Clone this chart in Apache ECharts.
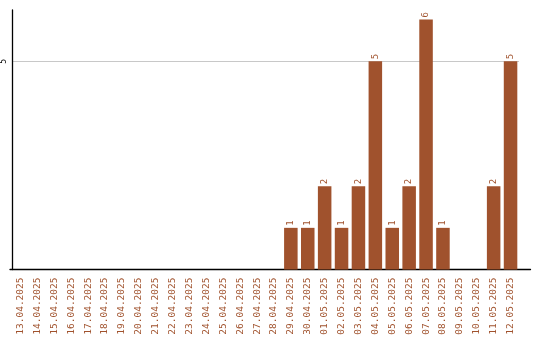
<!DOCTYPE html>
<html><head><meta charset="utf-8">
<script src="https://cdn.jsdelivr.net/npm/echarts@6/dist/echarts.min.js"></script>
<style>html,body{margin:0;padding:0;background:#fff}#c{width:540px;height:340px}</style>
</head><body><div id="c"></div>
<script>
var categories = ["13.04.2025","14.04.2025","15.04.2025","16.04.2025","17.04.2025","18.04.2025","19.04.2025","20.04.2025","21.04.2025","22.04.2025","23.04.2025","24.04.2025","25.04.2025","26.04.2025","27.04.2025","28.04.2025","29.04.2025","30.04.2025","01.05.2025","02.05.2025","03.05.2025","04.05.2025","05.05.2025","06.05.2025","07.05.2025","08.05.2025","09.05.2025","10.05.2025","11.05.2025","12.05.2025"];
var values = [0,0,0,0,0,0,0,0,0,0,0,0,0,0,0,0,1,1,2,1,2,5,1,2,6,1,0,0,2,5];
var yTicks = [0,5];

var chart = echarts.init(document.getElementById('c'), null, {renderer:'canvas'});
var color = '#A0522D';
chart.setOption({
  animation:false,
  grid:[
    {left:9, width:510, top:10, height:259.5, containLabel:false},
    {left:10, right:9.5, top:10, height:259.5, containLabel:false}
  ],
  xAxis:[
    {type:'category', gridIndex:0, data:categories,
     axisLine:{show:false}, axisTick:{show:false},
     axisLabel:{rotate:90, interval:0, color:color, fontFamily:'DejaVu Sans Mono', fontSize:9.5, margin:8}},
    {type:'category', gridIndex:1, data:[''],
     axisLine:{show:true, lineStyle:{color:'#000', width:1.3}}, axisTick:{show:false}, axisLabel:{show:false}}
  ],
  yAxis:[
    {type:'value', gridIndex:0, min:0, max:6.23, interval:5,
     axisLine:{show:true, lineStyle:{color:'#000', width:1.3}}, axisTick:{show:false},
     splitLine:{show:true, lineStyle:{color:['rgba(0,0,0,0)','#c8c8c8','rgba(0,0,0,0)'], width:1}},
     axisLabel:{rotate:90, color:'#000', fontFamily:'DejaVu Sans Mono', fontSize:8, margin:4, showMinLabel:false, showMaxLabel:false,
       formatter:function(v){return yTicks.indexOf(v)>=0 && v!==0 ? String(v) : '';}}},
    {type:'value', gridIndex:1, show:false}
  ],
  series:[{
    type:'bar', xAxisIndex:0, yAxisIndex:0, data:values, barCategoryGap:'20%',
    itemStyle:{color:color},
    label:{show:true, position:'top', rotate:90, align:'left', verticalAlign:'middle', distance:2,
      color:color, fontFamily:'DejaVu Sans Mono', fontSize:9,
      formatter:function(p){return p.value>0 ? String(p.value) : '';}}
  }]
});
</script></body></html>
